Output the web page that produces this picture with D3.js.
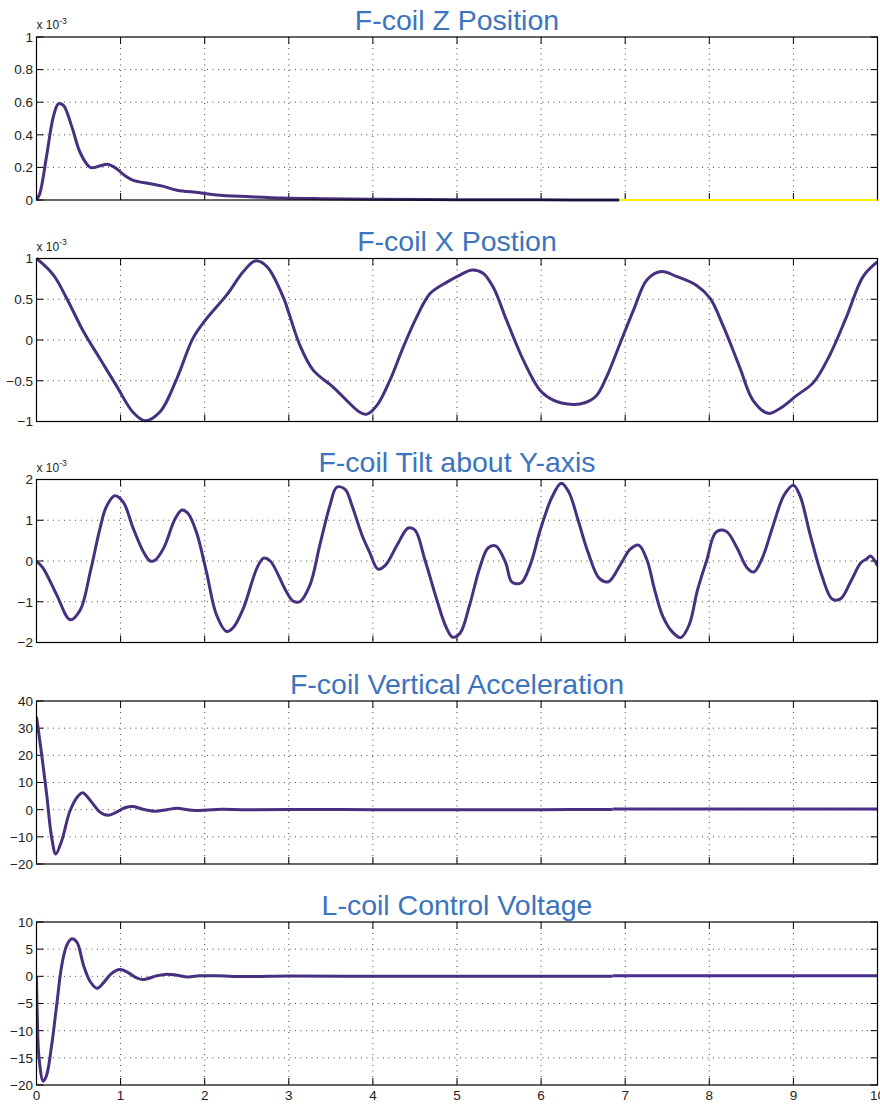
<!DOCTYPE html>
<html>
<head>
<meta charset="utf-8">
<script src="https://cdn.jsdelivr.net/npm/d3@7"></script>
<style>
  body { margin: 0; background: #fff; }
  svg { display: block; font-family: "Liberation Sans", Arial, sans-serif; }
</style>
</head>
<body>
<svg id="chart"></svg>
<script>
// time axis ticks shared by every panel
const timeTicks = [0, 1, 2, 3, 4, 5, 6, 7, 8, 9, 10];

// F-coil Z position (x 1e-3)
const zTime = [0, 0.04, 0.12, 0.2, 0.26, 0.32, 0.42, 0.52, 0.64, 0.76, 0.84, 0.93, 1.05, 1.15, 1.35, 1.5, 1.67, 1.94, 2.14, 2.54, 2.93, 3.4, 4, 5, 6, 6.93];
const zPos = [0, 0.04, 0.27, 0.51, 0.59, 0.58, 0.45, 0.29, 0.2, 0.21, 0.22, 0.2, 0.15, 0.12, 0.1, 0.085, 0.06, 0.045, 0.03, 0.02, 0.012, 0.008, 0.005, 0.002, 0.001, 0];
const zTailTime = [6.93, 10];
const zTail = [0, 0];
const zTicks = [0, 0.2, 0.4, 0.6, 0.8, 1];

// F-coil X position (x 1e-3)
const xTime = [0, 0.2, 0.36, 0.56, 0.755, 0.95, 1.15, 1.29, 1.47, 1.67, 1.86, 2.02, 2.26, 2.46, 2.6, 2.74, 2.94, 3.01, 3.13, 3.29, 3.53, 3.85, 3.93, 4.05, 4.2, 4.36, 4.52, 4.68, 4.88, 5.04, 5.18, 5.31, 5.43, 5.59, 5.79, 5.99, 6.15, 6.38, 6.52, 6.66, 6.78, 6.94, 7.1, 7.26, 7.43, 7.61, 7.85, 8.01, 8.17, 8.36, 8.52, 8.7, 8.84, 9.04, 9.24, 9.43, 9.63, 9.83, 10];
const xPos = [1, 0.8, 0.51, 0.1, -0.23, -0.56, -0.89, -0.99, -0.88, -0.47, 0.02, 0.26, 0.55, 0.84, 0.97, 0.9, 0.51, 0.3, -0.06, -0.37, -0.58, -0.89, -0.91, -0.8, -0.5, -0.09, 0.28, 0.57, 0.71, 0.8, 0.86, 0.82, 0.65, 0.24, -0.25, -0.62, -0.74, -0.79, -0.77, -0.68, -0.45, -0.04, 0.37, 0.74, 0.84, 0.78, 0.67, 0.51, 0.16, -0.33, -0.74, -0.9, -0.84, -0.68, -0.52, -0.19, 0.28, 0.78, 0.96];
const xTicks = [-1, -0.5, 0, 0.5, 1];

// F-coil tilt about Y-axis (x 1e-3)
const tiltTime = [0, 0.08, 0.24, 0.4, 0.52, 0.64, 0.755, 0.83, 0.93, 1.03, 1.15, 1.27, 1.35, 1.41, 1.51, 1.65, 1.73, 1.8, 1.9, 2.02, 2.14, 2.26, 2.34, 2.46, 2.62, 2.7, 2.78, 2.97, 3.05, 3.13, 3.25, 3.37, 3.49, 3.57, 3.67, 3.75, 3.87, 3.96, 4.06, 4.15, 4.29, 4.42, 4.5, 4.62, 4.76, 4.87, 4.95, 5.04, 5.15, 5.27, 5.37, 5.46, 5.58, 5.65, 5.76, 5.87, 5.99, 6.13, 6.24, 6.33, 6.44, 6.56, 6.69, 6.8, 6.94, 7.06, 7.16, 7.26, 7.35, 7.45, 7.56, 7.66, 7.76, 7.86, 7.97, 8.08, 8.2, 8.33, 8.45, 8.53, 8.63, 8.76, 8.89, 9, 9.08, 9.2, 9.34, 9.46, 9.56, 9.68, 9.8, 9.87, 9.92, 10];
const tilt = [0, -0.18, -0.83, -1.44, -1.2, -0.26, 0.8, 1.33, 1.6, 1.45, 0.8, 0.23, 0, 0.02, 0.31, 1.04, 1.25, 1.17, 0.72, -0.26, -1.32, -1.73, -1.63, -1.16, -0.18, 0.07, 0, -0.75, -0.98, -1, -0.6, 0.4, 1.37, 1.81, 1.76, 1.37, 0.64, 0.22, -0.2, -0.1, 0.4, 0.81, 0.76, 0.02, -0.95, -1.62, -1.87, -1.76, -1.08, -0.17, 0.32, 0.37, -0.05, -0.51, -0.54, -0.1, 0.76, 1.57, 1.91, 1.69, 1, 0.2, -0.42, -0.51, -0.1, 0.29, 0.39, 0.02, -0.71, -1.37, -1.74, -1.88, -1.57, -0.71, 0.02, 0.71, 0.73, 0.32, -0.17, -0.27, 0.07, 0.88, 1.62, 1.86, 1.59, 0.64, -0.37, -0.93, -0.93, -0.51, -0.05, 0.05, 0.12, -0.12];
const tiltTicks = [-2, -1, 0, 1, 2];

// F-coil vertical acceleration
const accTime = [0, 0.06, 0.12, 0.18, 0.23, 0.3, 0.4, 0.5, 0.55, 0.64, 0.755, 0.85, 0.95, 1.05, 1.15, 1.27, 1.41, 1.55, 1.67, 1.82, 1.94, 2.14, 2.5, 3, 4, 5, 6, 6.85];
const acc = [34.2, 20.7, 5.9, -10.2, -16.3, -11.4, -0.3, 5.2, 6.2, 3.4, -0.9, -2.1, -0.9, 0.7, 1.2, 0.1, -0.6, 0, 0.5, -0.1, -0.3, 0.1, 0, 0.05, 0, 0, 0, 0.05];
const accTailTime = [6.85, 10];
const accTail = [0.25, 0.25];
const accTicks = [-20, -10, 0, 10, 20, 30, 40];

// L-coil control voltage
const voltTime = [0, 0.01, 0.03, 0.08, 0.12, 0.18, 0.24, 0.3, 0.36, 0.42, 0.48, 0.56, 0.64, 0.72, 0.79, 0.89, 0.99, 1.09, 1.19, 1.27, 1.43, 1.55, 1.67, 1.8, 1.94, 2.14, 2.5, 3, 4, 5, 6, 6.85];
const volt = [0, -7.7, -15, -19.3, -18.2, -12.7, -5.3, 2, 5.7, 6.9, 6.3, 2, -1, -2.2, -1.3, 0.5, 1.25, 0.7, -0.3, -0.6, 0.1, 0.4, 0.2, -0.1, 0.1, 0.1, -0.05, 0.05, 0, 0, 0, 0];
const voltTailTime = [6.85, 10];
const voltTail = [0.1, 0.1];
const voltTicks = [-20, -15, -10, -5, 0, 5, 10];

const panels = [
  { title: "F-coil Z Position", exp: true, ticks: zTicks, time: zTime, vals: zPos, tailTime: zTailTime, tail: zTail, tailColor: "#fff200", tailOnTop: true },
  { title: "F-coil X Postion", exp: true, ticks: xTicks, time: xTime, vals: xPos },
  { title: "F-coil Tilt about Y-axis", exp: true, ticks: tiltTicks, time: tiltTime, vals: tilt },
  { title: "F-coil Vertical Acceleration", exp: false, ticks: accTicks, time: accTime, vals: acc, tailTime: accTailTime, tail: accTail, tailColor: "#4a2f8c" },
  { title: "L-coil Control Voltage", exp: false, ticks: voltTicks, time: voltTime, vals: volt, tailTime: voltTailTime, tail: voltTail, tailColor: "#4a2f8c" }
];

const W = 880, H = 1105;
const left = 36.5, right = 877.5;
const panelTops = [37, 258.5, 479.5, 701, 922];
const panelH = 163;
const lineColor = "#46307f";
const titleColor = "#3c74bd";

const svg = d3.select("#chart").attr("width", W).attr("height", H);

const x = d3.scaleLinear().domain([0, 10]).range([left, right]);

panels.forEach((p, i) => {
  const top = panelTops[i];
  const bottom = top + panelH;
  const y = d3.scaleLinear().domain(d3.extent(p.ticks)).range([bottom, top]);
  const g = svg.append("g");

  const clipId = "clip" + i;
  g.append("clipPath").attr("id", clipId)
    .append("rect").attr("x", left).attr("y", top - 3)
    .attr("width", right - left).attr("height", panelH + 6);

  // dotted grid
  g.selectAll(".vgrid").data(timeTicks.slice(1, -1)).enter().append("line")
    .attr("x1", d => x(d)).attr("x2", d => x(d))
    .attr("y1", top).attr("y2", bottom)
    .attr("stroke", "#333").attr("stroke-width", 0.9)
    .attr("stroke-dasharray", "1,4.5");
  g.selectAll(".hgrid").data(p.ticks.slice(1, -1)).enter().append("line")
    .attr("x1", left).attr("x2", right)
    .attr("y1", d => y(d)).attr("y2", d => y(d))
    .attr("stroke", "#333").attr("stroke-width", 0.9)
    .attr("stroke-dasharray", "1,4.5");

  // inner ticks on all four sides
  const tk = 7;
  timeTicks.forEach(t => {
    g.append("line").attr("x1", x(t)).attr("x2", x(t)).attr("y1", bottom).attr("y2", bottom - tk).attr("stroke", "#000");
    g.append("line").attr("x1", x(t)).attr("x2", x(t)).attr("y1", top).attr("y2", top + tk).attr("stroke", "#000");
  });
  p.ticks.forEach(v => {
    g.append("line").attr("x1", left).attr("x2", left + tk).attr("y1", y(v)).attr("y2", y(v)).attr("stroke", "#000");
    g.append("line").attr("x1", right).attr("x2", right - tk).attr("y1", y(v)).attr("y2", y(v)).attr("stroke", "#000");
  });

  // data line
  const line = d3.line()
    .x(d => x(d[0]))
    .y(d => y(d[1]))
    .curve(d3.curveCatmullRom.alpha(0.5));

  const drawTail = () => g.append("path")
    .datum(d3.zip(p.tailTime, p.tail))
    .attr("d", line)
    .attr("clip-path", `url(#${clipId})`)
    .attr("fill", "none")
    .attr("stroke", p.tailColor)
    .attr("stroke-width", p.tailOnTop ? 2 : 3);

  if (p.tail && !p.tailOnTop) drawTail();
  g.append("path")
    .datum(d3.zip(p.time, p.vals))
    .attr("d", line)
    .attr("clip-path", `url(#${clipId})`)
    .attr("fill", "none")
    .attr("stroke", lineColor)
    .attr("stroke-width", 3)
    .attr("stroke-linejoin", "round");

  // frame
  g.append("rect")
    .attr("x", left).attr("y", top)
    .attr("width", right - left).attr("height", panelH)
    .attr("fill", "none").attr("stroke", "#000").attr("stroke-width", 1.2);

  if (p.tail && p.tailOnTop) drawTail();

  // y tick labels
  g.selectAll(".ylab").data(p.ticks).enter().append("text")
    .attr("x", left - 3.5)
    .attr("y", d => y(d))
    .attr("dy", "0.36em")
    .attr("text-anchor", "end")
    .style("font-size", "13.5px")
    .style("fill", "#222")
    .text(d => d3.format("")(d));

  // exponent
  if (p.exp) {
    const t = g.append("text")
      .attr("x", left)
      .attr("y", top - 8)
      .style("font-size", "12px")
      .style("fill", "#222");
    t.append("tspan").text("x 10");
    t.append("tspan").attr("dy", -5.5).style("font-size", "8.5px").text("-3");
  }

  // title
  g.append("text")
    .attr("x", (left + right) / 2)
    .attr("y", top - 7.5)
    .attr("text-anchor", "middle")
    .style("font-size", "28.5px")
    .style("fill", titleColor)
    .text(p.title);

  // x tick labels on the last panel only
  if (i === panels.length - 1) {
    g.selectAll(".xlab").data(timeTicks).enter().append("text")
      .attr("x", d => x(d))
      .attr("y", bottom + 15)
      .attr("text-anchor", "middle")
      .style("font-size", "13.5px")
      .style("fill", "#222")
      .text(d => d);
  }
});
</script>
</body>
</html>
